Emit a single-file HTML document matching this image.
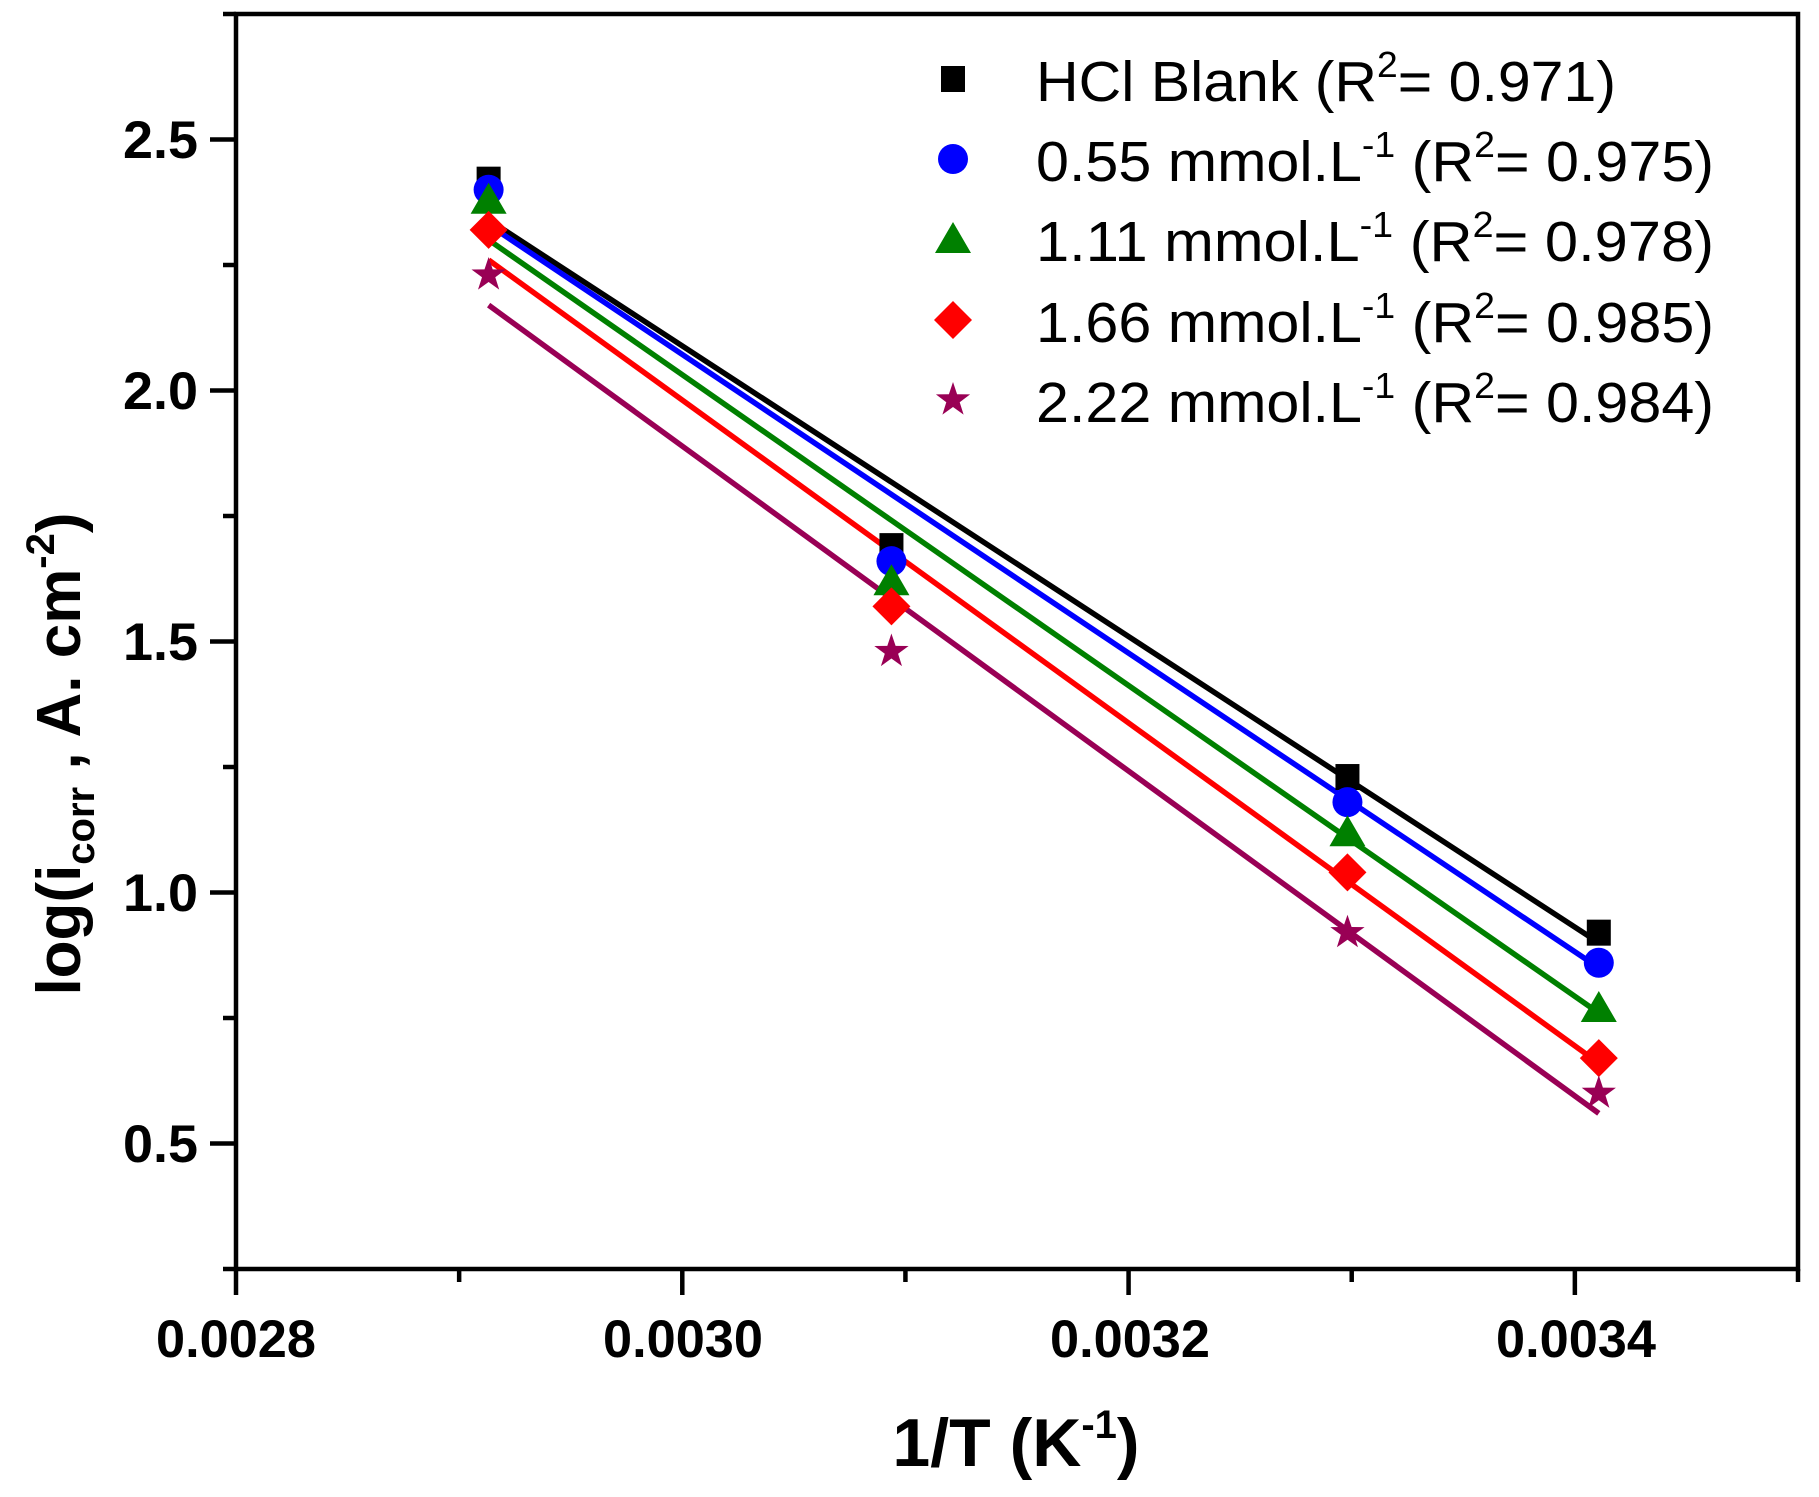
<!DOCTYPE html>
<html><head><meta charset="utf-8"><style>
html,body{margin:0;padding:0;background:#fff;}
svg{display:block;font-family:"Liberation Sans",Arial,sans-serif;}
</style></head><body>
<svg id="s" width="1819" height="1497" viewBox="0 0 1819 1497" xmlns="http://www.w3.org/2000/svg">
<rect x="0" y="0" width="1819" height="1497" fill="#fff"/>
<g id="plot"></g>
<rect x="236" y="14" width="1562" height="1255" fill="none" stroke="#000" stroke-width="4.5"/>
<g font-weight="bold" font-size="53" text-anchor="middle">
<text x="236" y="1357" textLength="160" lengthAdjust="spacingAndGlyphs">0.0028</text>
<text x="683" y="1357" textLength="160" lengthAdjust="spacingAndGlyphs">0.0030</text>
<text x="1130" y="1357" textLength="160" lengthAdjust="spacingAndGlyphs">0.0032</text>
<text x="1576" y="1357" textLength="160" lengthAdjust="spacingAndGlyphs">0.0034</text>
</g>
<g font-weight="bold" font-size="53" text-anchor="end">
<text x="198" y="158" textLength="75" lengthAdjust="spacingAndGlyphs">2.5</text>
<text x="198" y="409" textLength="75" lengthAdjust="spacingAndGlyphs">2.0</text>
<text x="198" y="660" textLength="75" lengthAdjust="spacingAndGlyphs">1.5</text>
<text x="198" y="911" textLength="75" lengthAdjust="spacingAndGlyphs">1.0</text>
<text x="198" y="1162" textLength="75" lengthAdjust="spacingAndGlyphs">0.5</text>
</g>
<text x="1016" y="1466" font-weight="bold" font-size="68" text-anchor="middle">1/T (K<tspan font-size="40" dy="-28">-1</tspan><tspan dy="28">)</tspan></text>
<text transform="translate(80,754) rotate(-90)" font-weight="bold" font-size="62" text-anchor="middle">log(i<tspan font-size="40" dy="14">corr</tspan><tspan dy="-14"> , A. cm</tspan><tspan font-size="40" dy="-26">-2</tspan><tspan dy="26">)</tspan></text>
<g font-size="57">
<text x="1036" y="101" textLength="580" lengthAdjust="spacingAndGlyphs">HCl Blank (R<tspan font-size="36" dy="-24">2</tspan><tspan dy="24">= 0.971)</tspan></text>
<text x="1036" y="181" textLength="678" lengthAdjust="spacingAndGlyphs">0.55 mmol.L<tspan font-size="36" dy="-24">-1</tspan><tspan dy="24"> (R</tspan><tspan font-size="36" dy="-24">2</tspan><tspan dy="24">= 0.975)</tspan></text>
<text x="1036" y="261" textLength="678" lengthAdjust="spacingAndGlyphs">1.11 mmol.L<tspan font-size="36" dy="-24">-1</tspan><tspan dy="24"> (R</tspan><tspan font-size="36" dy="-24">2</tspan><tspan dy="24">= 0.978)</tspan></text>
<text x="1036" y="342" textLength="678" lengthAdjust="spacingAndGlyphs">1.66 mmol.L<tspan font-size="36" dy="-24">-1</tspan><tspan dy="24"> (R</tspan><tspan font-size="36" dy="-24">2</tspan><tspan dy="24">= 0.985)</tspan></text>
<text x="1036" y="422" textLength="678" lengthAdjust="spacingAndGlyphs">2.22 mmol.L<tspan font-size="36" dy="-24">-1</tspan><tspan dy="24"> (R</tspan><tspan font-size="36" dy="-24">2</tspan><tspan dy="24">= 0.984)</tspan></text>
</g>
</svg>
<script>
var NS="http://www.w3.org/2000/svg",g=document.getElementById("plot");
function X(v){return 236+(v-0.0028)/0.0007*1562;}
function Y(v){return 14+(2.75-v)/2.5*1255;}
function el(t,a){var e=document.createElementNS(NS,t);for(var k in a)e.setAttribute(k,a[k]);g.appendChild(e);return e;}
for(var i=0;i<=7;i++){var x=X(0.0028+i*0.0001);el("line",{x1:x,y1:1269,x2:x,y2:1269+(i%2?13:26),stroke:"#000","stroke-width":4.5});}
for(var i=0;i<=10;i++){var y=Y(0.25+i*0.25);el("line",{x1:236,y1:y,x2:236-(i%2?26:13),y2:y,stroke:"#000","stroke-width":4.5});}
var xs=[1/343,1/323,1/303,1/293];
function XD(v){return X(v)-5;}
var S=[
 {c:"#000",m:"sq",d:[2.42,1.69,1.23,0.92],l:[2.34,0.90]},
 {c:"#0000ff",m:"ci",d:[2.40,1.66,1.18,0.86],l:[2.33,0.85]},
 {c:"#008000",m:"tr",d:[2.38,1.62,1.12,0.77],l:[2.30,0.76]},
 {c:"#ff0000",m:"di",d:[2.32,1.57,1.04,0.67],l:[2.26,0.66]},
 {c:"#990055",m:"st",d:[2.23,1.48,0.92,0.60],l:[2.17,0.56]}];
function mk(m,x,y,c){
 if(m=="sq")el("rect",{x:x-12,y:y-13,width:24,height:26,fill:c});
 else if(m=="ci")el("ellipse",{cx:x,cy:y,rx:15,ry:15,fill:c});
 else if(m=="tr")el("polygon",{points:(x)+","+(y-17)+" "+(x+18)+","+(y+14)+" "+(x-18)+","+(y+14),fill:c});
 else if(m=="di")el("polygon",{points:x+","+(y-19)+" "+(x+19)+","+y+" "+x+","+(y+19)+" "+(x-19)+","+y,fill:c});
 else{var p=[];for(var k=0;k<10;k++){var r=k%2?7:18,a=-Math.PI/2+k*Math.PI/5;p.push((x+r*Math.cos(a)).toFixed(1)+","+(y+r*Math.sin(a)).toFixed(1));}el("polygon",{points:p.join(" "),fill:c});}
}
S.forEach(function(s){el("line",{x1:XD(xs[0]),y1:Y(s.l[0]),x2:XD(xs[3]),y2:Y(s.l[1]),stroke:s.c,"stroke-width":5.5});});
S.forEach(function(s){for(var i=0;i<4;i++)mk(s.m,XD(xs[i]),Y(s.d[i]),s.c);});
var ly=[79,159,239,320,400];
S.forEach(function(s,i){mk(s.m,953,ly[i],s.c);});
</script>
</body></html>
